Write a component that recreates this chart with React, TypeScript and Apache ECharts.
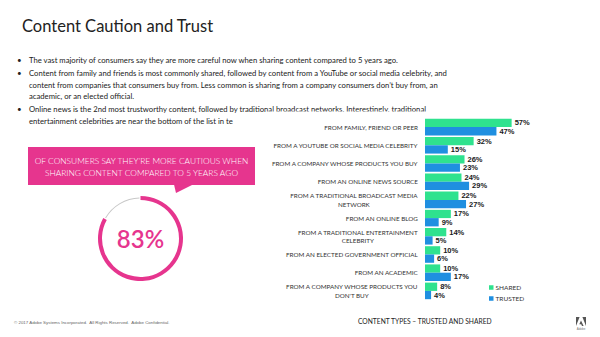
import React, { useEffect, useRef } from "react";
import * as echarts from "echarts";

const categories = [
  "FROM FAMILY, FRIEND OR PEER",
  "FROM A YOUTUBE OR SOCIAL MEDIA CELEBRITY",
  "FROM A COMPANY WHOSE PRODUCTS YOU BUY",
  "FROM AN ONLINE NEWS SOURCE",
  "FROM A TRADITIONAL BROADCAST MEDIA\nNETWORK",
  "FROM AN ONLINE BLOG",
  "FROM A TRADITIONAL ENTERTAINMENT\nCELEBRITY",
  "FROM AN ELECTED GOVERNMENT OFFICIAL",
  "FROM AN ACADEMIC",
  "FROM A COMPANY WHOSE PRODUCTS YOU\nDON'T BUY",
];
const sharedValues = [57, 32, 26, 24, 22, 17, 14, 10, 10, 8];
const trustedValues = [47, 15, 23, 29, 27, 9, 5, 6, 17, 4];
const cautiousShare = 83;

const titleText = "Content Caution and Trust";
const bulletLines = [
  { bullet: true, text: "The vast majority of consumers say they are more careful now when sharing content compared to 5 years ago." },
  { bullet: true, text: "Content from family and friends is most commonly shared, followed by content from a YouTube or social media celebrity, and" },
  { bullet: false, text: "content from companies that consumers buy from. Less common is sharing from a company consumers don\u2019t buy from, an" },
  { bullet: false, text: "academic, or an elected official." },
  { bullet: true, text: "Online news is the 2nd most trustworthy content, followed by traditional broadcast networks. Interestingly, traditional" },
  { bullet: false, text: "entertainment celebrities are near the bottom of the list in te" },
];
const calloutLines = [
  "OF CONSUMERS SAY THEY\u2019RE MORE CAUTIOUS WHEN",
  "SHARING CONTENT COMPARED TO 5 YEARS AGO",
];
const footerText = "\u00A9 2017 Adobe Systems Incorporated.  All Rights Reserved.  Adobe Confidential.";
const chartCaption = "CONTENT TYPES \u2013 TRUSTED AND SHARED";

const GREEN = "#2fe28e";
const BLUE = "#1f8fe0";
const PINK = "#e6358e";

export default function App() {
  const ref = useRef<HTMLDivElement>(null);
  useEffect(() => {
    if (!ref.current) return;
    const chart = echarts.init(ref.current, null, { renderer: "svg" });
    const lineYs = [60, 73, 84.5, 96, 109, 121];
    const bodyGraphics: any[] = [];
    bulletLines.forEach((l, i) => {
      if (l.bullet) {
        bodyGraphics.push({
          type: "text",
          z: 0,
          style: { x: 17, y: lineYs[i], text: "\u2022", fontSize: 8, fontFamily: "Lato", fill: "#222", verticalAlign: "middle" },
        });
      }
      bodyGraphics.push({
        type: "text",
        z: 0,
        style: { x: 29, y: lineYs[i], text: l.text, fontSize: 7.7, fontFamily: "Lato", fill: "#222", verticalAlign: "middle" },
      });
    });

    const option: any = {
      animation: false,
      backgroundColor: "#ffffff",
      grid: { left: 425, top: 118, width: 152, height: 182, containLabel: false },
      xAxis: { type: "value", min: 0, max: 100, show: false },
      yAxis: {
        type: "category",
        data: categories,
        inverse: true,
        z: 2,
        axisLine: { show: false },
        axisTick: { show: false },
        splitLine: { show: false },
        axisLabel: {
          margin: 7,
          fontSize: 6.3,
          fontFamily: "Lato",
          color: "#333",
          lineHeight: 8.3,
          formatter: (v: string) => `{c|${v}}`,
          rich: { c: { align: "center", fontSize: 6.3, fontFamily: "Lato", color: "#333", lineHeight: 8.3 } },
        },
      },
      legend: {
        orient: "vertical",
        left: 484,
        top: 279,
        itemWidth: 4.5,
        itemHeight: 4.5,
        itemGap: 4,
        icon: "rect",
        z: 4,
        data: ["SHARED", "TRUSTED"],
        textStyle: { fontSize: 6.5, fontFamily: "Lato", color: "#333", padding: [0, 0, 0, -3] },
      },
      series: [
        {
          name: "SHARED",
          type: "bar",
          z: 3,
          data: sharedValues,
          barGap: "0%",
          barCategoryGap: "9%",
          itemStyle: { color: GREEN },
          label: {
            show: true,
            position: "right",
            distance: 3,
            formatter: "{c}%",
            fontWeight: "bold",
            fontSize: 7.5,
            fontFamily: "Liberation Sans",
            color: "#1a1a1a",
          },
        },
        {
          name: "TRUSTED",
          type: "bar",
          z: 3,
          data: trustedValues,
          itemStyle: { color: BLUE },
          label: {
            show: true,
            position: "right",
            distance: 3,
            formatter: "{c}%",
            fontWeight: "bold",
            fontSize: 7.5,
            fontFamily: "Liberation Sans",
            color: "#1a1a1a",
          },
        },
        {
          type: "pie",
          silent: true,
          z: 3,
          center: [140.5, 238.5],
          radius: [40, 41],
          startAngle: 90,
          clockwise: true,
          padAngle: 3,
          label: { show: false },
          labelLine: { show: false },
          data: [
            { value: cautiousShare, itemStyle: { color: "rgba(0,0,0,0)" } },
            { value: 100 - cautiousShare, itemStyle: { color: "#c8c8c8" } },
          ],
        },
        {
          type: "pie",
          silent: true,
          z: 4,
          center: [140.5, 238.5],
          radius: [38.5, 42.5],
          startAngle: 90,
          clockwise: true,
          labelLine: { show: false },
          data: [
            {
              value: cautiousShare,
              itemStyle: { color: PINK },
              label: {
                show: true,
                position: "center",
                formatter: "{c}%",
                fontSize: 24,
                fontWeight: 600,
                fontFamily: "Lato",
                color: PINK,
              },
            },
            { value: 100 - cautiousShare, itemStyle: { color: "rgba(0,0,0,0)" }, label: { show: false } },
          ],
        },
      ],
      graphic: [
        {
          type: "text",
          z: 0,
          style: { x: 22, y: 26, text: titleText, fontSize: 16.5, fontFamily: "Lato", fill: "#222", verticalAlign: "middle" },
        },
        ...bodyGraphics,
        { type: "rect", z: 1, shape: { x: 266, y: 111.5, width: 334, height: 200 }, style: { fill: "#ffffff" } },
        { type: "rect", z: 1, shape: { x: 28, y: 147, width: 227, height: 38 }, style: { fill: PINK } },
        { type: "polygon", z: 1, shape: { points: [[174, 184.5], [193, 184.5], [176, 193]] }, style: { fill: PINK } },
        {
          type: "text",
          z: 2,
          style: { x: 141.5, y: 161, text: calloutLines[0], fontSize: 8.4, fontWeight: 300, fontFamily: "Lato", fill: "#ffffff", align: "center", verticalAlign: "middle" },
        },
        {
          type: "text",
          z: 2,
          style: { x: 141.5, y: 172.5, text: calloutLines[1], fontSize: 8.4, fontWeight: 300, fontFamily: "Lato", fill: "#ffffff", align: "center", verticalAlign: "middle" },
        },
        {
          type: "text",
          z: 2,
          style: { x: 14, y: 322, text: footerText, fontSize: 4.4, fontFamily: "Liberation Sans", fill: "#666", verticalAlign: "middle" },
        },
        {
          type: "text",
          z: 2,
          style: { x: 358, y: 321, text: chartCaption, fontSize: 6.7, fontFamily: "Lato", fill: "#222", verticalAlign: "middle" },
        },
        { type: "polygon", z: 2, shape: { points: [[576, 326], [576, 317], [579.6, 317]] }, style: { fill: "#555" } },
        { type: "polygon", z: 2, shape: { points: [[582.4, 317], [586, 317], [586, 326]] }, style: { fill: "#555" } },
        { type: "polygon", z: 2, shape: { points: [[581, 320.5], [583.6, 326], [582, 326], [581.2, 324.2], [579.3, 324.2]] }, style: { fill: "#555" } },
        {
          type: "text",
          z: 2,
          style: { x: 581, y: 329, text: "Adobe", fontSize: 3, fontFamily: "Liberation Sans", fill: "#777", align: "center", verticalAlign: "middle" },
        },
      ],
    };
    chart.setOption(option);
    return () => chart.dispose();
  }, []);
  return (
    <div
      ref={ref}
      style={{ position: "fixed", left: 0, top: 0, width: 600, height: 337, background: "#fff" }}
    />
  );
}
